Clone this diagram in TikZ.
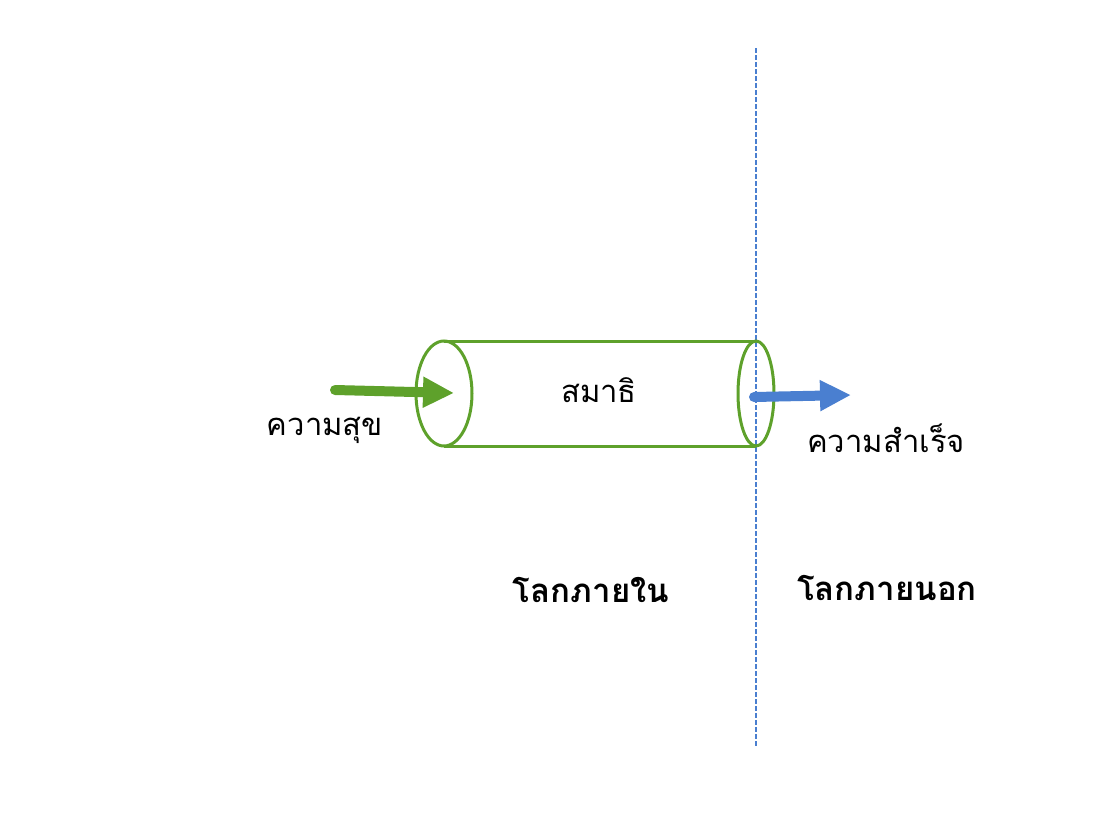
\documentclass[tikz,border=0pt]{standalone}
\usepackage{fontspec}
\newfontfamily\thaifont[Script=Thai]{Loma}
\usetikzlibrary{arrows.meta}
\definecolor{cgreen}{HTML}{5EA12B}
\definecolor{cblue}{HTML}{4A7FD0}
\tikzset{
  cyl/.style={draw=cgreen,line width=3pt},
  bigarrow/.style={line width=10pt,line cap=round,-{Triangle[length=31pt,width=29pt]}},
  thlabel/.style={font=\thaifont\fontsize{31}{35}\selectfont,inner sep=0pt},
  thbold/.style={font=\thaifont\bfseries\fontsize{33}{37}\selectfont,inner sep=0pt},
}
\begin{document}
\begin{tikzpicture}[x=1pt,y=-1pt]
\useasboundingbox (0,0) rectangle (1104,828);
% boundary line
\coordinate (ltop) at (756,48);
\coordinate (lbot) at (756,746);
\draw[cblue,line width=2pt,dash pattern=on 5pt off 2pt] (ltop) -- (lbot);
% cylinder
\draw[cyl] (444,341) -- (756,341);
\draw[cyl] (444,446) -- (756,446);
\draw[cyl] (444,393.5) ellipse [x radius=28,y radius=52.5];
\draw[cyl] (756,393.5) ellipse [x radius=18,y radius=52.5];
% arrows
\coordinate (gs) at (335,390);
\coordinate (ge) at (454,393);
\draw[cgreen,bigarrow] (gs) -- (ge);
\coordinate (bs) at (754,397);
\coordinate (be) at (851,395);
\draw[cblue,bigarrow] (bs) -- (be);
% labels
\node[thlabel] (samadhi) at (599,390) {สมาธิ};
\node[thlabel] (happy) at (325,430) {ความสุข};
\node[thlabel] (success) at (886,438) {ความสำเร็จ};
\node[thbold] (inner) at (591,590) {โลกภายใน};
\node[thbold] (outer) at (887,588) {โลกภายนอก};
\end{tikzpicture}
\end{document}
